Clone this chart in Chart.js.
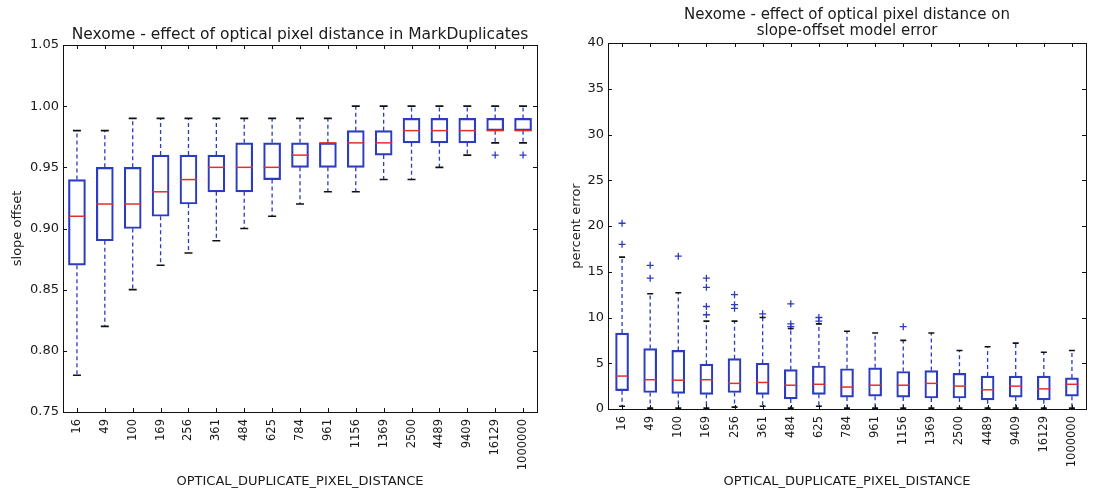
<!DOCTYPE html>
<html>
<head>
<meta charset="utf-8">
<script src="https://cdn.jsdelivr.net/npm/chart.js@4.4.1/dist/chart.umd.min.js"></script>
<style>
  body { margin: 0; background: #fff; }
  #wrap { display: flex; width: 1094px; height: 497px; }
  .box { position: relative; width: 547px; height: 497px; }
</style>
</head>
<body>
<div id="wrap">
  <div class="box"><canvas id="slopeChart"></canvas></div>
  <div class="box"><canvas id="errorChart"></canvas></div>
</div>
<script>
// categories (OPTICAL_DUPLICATE_PIXEL_DISTANCE)
const categories = ['16', '49', '100', '169', '256', '361', '484', '625', '784', '961', '1156', '1369', '2500', '4489', '9409', '16129', '1000000'];

// left plot - slope offset
const slopeLow  = [0.78, 0.82, 0.85, 0.87, 0.88, 0.89, 0.90, 0.91, 0.92, 0.93, 0.93, 0.94, 0.94, 0.95, 0.96, 0.97, 0.97];
const slopeQ1   = [0.87, 0.89, 0.90, 0.91, 0.92, 0.93, 0.93, 0.94, 0.95, 0.95, 0.95, 0.96, 0.97, 0.97, 0.97, 0.98, 0.98];
const slopeMed  = [0.91, 0.92, 0.92, 0.93, 0.94, 0.95, 0.95, 0.95, 0.96, 0.97, 0.97, 0.97, 0.98, 0.98, 0.98, 0.98, 0.98];
const slopeQ3   = [0.94, 0.95, 0.95, 0.96, 0.96, 0.96, 0.97, 0.97, 0.97, 0.97, 0.98, 0.98, 0.99, 0.99, 0.99, 0.99, 0.99];
const slopeHigh = [0.98, 0.98, 0.99, 0.99, 0.99, 0.99, 0.99, 0.99, 0.99, 0.99, 1.00, 1.00, 1.00, 1.00, 1.00, 1.00, 1.00];
const slopeFliers = [[], [], [], [], [], [], [], [], [], [], [], [], [], [], [], [0.96], [0.96]];

// right plot - percent error
const errLow  = [0.3, 0.1, 0.1, 0.1, 0.2, 0.3, 0.1, 0.3, 0.1, 0.1, 0.1, 0.1, 0.1, 0.1, 0.1, 0.1, 0.1];
const errQ1   = [2.0, 1.8, 1.7, 1.6, 1.8, 1.6, 1.1, 1.6, 1.3, 1.4, 1.3, 1.2, 1.2, 1.0, 1.3, 1.0, 1.4];
const errMed  = [3.6, 3.2, 3.15, 3.2, 2.8, 2.9, 2.6, 2.7, 2.4, 2.6, 2.6, 2.8, 2.5, 2.1, 2.5, 2.2, 2.7];
const errQ3   = [8.3, 6.6, 6.4, 4.9, 5.5, 5.0, 4.3, 4.7, 4.4, 4.5, 4.1, 4.2, 3.9, 3.6, 3.6, 3.6, 3.4];
const errHigh = [16.6, 12.6, 12.7, 9.6, 9.6, 10.0, 8.8, 9.3, 8.5, 8.3, 7.5, 8.3, 6.4, 6.8, 7.2, 6.2, 6.4];
const errFliers = [[18.0, 20.3], [14.3, 15.7], [16.7], [10.3, 11.2, 13.3, 14.3], [11.0, 11.4, 12.5], [10.4], [9.0, 9.3, 11.5], [9.6, 10.0], [], [], [9.0], [], [], [], [], [], []];

const BLUE = '#2b3cc0';
const RED = '#e0302c';
const FONT = 'DejaVu Sans';
const TEXT = '#1a1a1a';

// dashed whiskers, drawn under the boxes
const whiskerPlugin = {
    id: 'whiskers',
    beforeDatasetsDraw(chart, args, opts) {
        const ctx = chart.ctx;
        const xs = chart.scales.x, ys = chart.scales.y;
        ctx.save();
        ctx.strokeStyle = BLUE;
        ctx.lineWidth = 1.3;
        ctx.setLineDash([4, 3]);
        for (let i = 0; i < categories.length; i++) {
            const x = xs.getPixelForValue(i);
            ctx.beginPath();
            ctx.moveTo(x, ys.getPixelForValue(opts.q3[i]));
            ctx.lineTo(x, ys.getPixelForValue(opts.hi[i]));
            ctx.moveTo(x, ys.getPixelForValue(opts.q1[i]));
            ctx.lineTo(x, ys.getPixelForValue(opts.lo[i]));
            ctx.stroke();
        }
        ctx.restore();
    }
};

// matplotlib style frame with inward ticks on all four sides
const framePlugin = {
    id: 'frame',
    afterDatasetsDraw(chart) {
        const ctx = chart.ctx;
        const a = chart.chartArea;
        const xs = chart.scales.x, ys = chart.scales.y;
        ctx.save();
        ctx.strokeStyle = '#111';
        ctx.lineWidth = 1;
        ctx.strokeRect(a.left + 0.5, a.top + 0.5, a.right - a.left, a.bottom - a.top);
        ctx.beginPath();
        xs.ticks.forEach((t, i) => {
            const x = Math.round(xs.getPixelForTick(i)) + 0.5;
            ctx.moveTo(x, a.bottom); ctx.lineTo(x, a.bottom - 4);
            ctx.moveTo(x, a.top); ctx.lineTo(x, a.top + 4);
        });
        ys.ticks.forEach((t, i) => {
            const y = Math.round(ys.getPixelForTick(i)) + 0.5;
            ctx.moveTo(a.left, y); ctx.lineTo(a.left + 4, y);
            ctx.moveTo(a.right, y); ctx.lineTo(a.right - 4, y);
        });
        ctx.stroke();
        ctx.restore();
    }
};

// title centred over the plot area, like matplotlib
const plotTitlePlugin = {
    id: 'plotTitle',
    afterDraw(chart, args, opts) {
        const ctx = chart.ctx;
        const a = chart.chartArea;
        ctx.save();
        ctx.fillStyle = TEXT;
        ctx.font = opts.size + 'px "' + FONT + '"';
        ctx.textAlign = 'center';
        ctx.textBaseline = 'middle';
        opts.lines.forEach((line, i) => ctx.fillText(line, (a.left + a.right) / 2, opts.y[i]));
        ctx.restore();
    }
};

function makeBoxChart(id, cfg) {
    const flierPts = [];
    cfg.fliers.forEach((list, i) => list.forEach(v => flierPts.push({ x: categories[i], y: v })));

    new Chart(document.getElementById(id).getContext('2d'), {
        type: 'bar',
        data: {
            labels: categories,
            datasets: [
                {
                    type: 'bar',
                    data: categories.map((c, i) => [cfg.q1[i], cfg.q3[i]]),
                    backgroundColor: 'rgba(255,255,255,0)',
                    borderColor: BLUE,
                    borderWidth: 1.5,
                    borderSkipped: false,
                    barThickness: cfg.boxW,
                    order: 3
                },
                {
                    type: 'line',
                    data: cfg.med,
                    showLine: false,
                    pointStyle: 'line',
                    pointRadius: cfg.boxW / 2,
                    borderColor: RED,
                    borderWidth: 1.5,
                    order: 1
                },
                {
                    type: 'line',
                    data: cfg.hi,
                    showLine: false,
                    pointStyle: 'line',
                    pointRadius: cfg.capR,
                    borderColor: '#111',
                    borderWidth: 1.6,
                    order: 2
                },
                {
                    type: 'line',
                    data: cfg.lo,
                    showLine: false,
                    pointStyle: 'line',
                    pointRadius: cfg.capR,
                    borderColor: '#111',
                    borderWidth: 1.6,
                    order: 2
                },
                {
                    type: 'line',
                    data: flierPts,
                    showLine: false,
                    pointStyle: 'cross',
                    pointRadius: 3.5,
                    borderColor: BLUE,
                    borderWidth: 1.3,
                    order: 2
                }
            ]
        },
        options: {
            responsive: true,
            maintainAspectRatio: false,
            animation: false,
            layout: { padding: { left: 0, right: 4, top: cfg.top, bottom: 0 } },
            plugins: {
                legend: { display: false },
                tooltip: { enabled: false },
                title: { display: false },
                plotTitle: { lines: cfg.title, y: cfg.titleY, size: cfg.titleSize },
                whiskers: { q1: cfg.q1, q3: cfg.q3, lo: cfg.lo, hi: cfg.hi }
            },
            scales: {
                x: {
                    grid: { display: false, drawTicks: false },
                    border: { display: false },
                    ticks: {
                        color: TEXT,
                        font: { family: FONT, size: 11.5 },
                        minRotation: 90,
                        maxRotation: 90,
                        autoSkip: false,
                        padding: 7
                    },
                    title: {
                        display: true,
                        text: 'OPTICAL_DUPLICATE_PIXEL_DISTANCE',
                        color: TEXT,
                        font: { family: FONT, size: 13 },
                        padding: { top: 0, bottom: 8 }
                    },
                    afterFit(scale) { scale.height = cfg.xH; }
                },
                y: {
                    min: cfg.yMin,
                    max: cfg.yMax,
                    grid: { display: false, drawTicks: false },
                    border: { display: false },
                    ticks: {
                        stepSize: cfg.step,
                        color: TEXT,
                        font: { family: FONT, size: 13 },
                        padding: 4,
                        callback: cfg.fmt
                    },
                    title: {
                        display: true,
                        text: cfg.yTitle,
                        color: TEXT,
                        font: { family: FONT, size: 13 },
                        padding: { top: cfg.yTitlePad, bottom: 0 }
                    },
                    afterFit(scale) { scale.width = cfg.yW; }
                }
            }
        },
        plugins: [whiskerPlugin, framePlugin, plotTitlePlugin]
    });
}

makeBoxChart('slopeChart', {
    q1: slopeQ1, q3: slopeQ3, med: slopeMed, lo: slopeLow, hi: slopeHigh, fliers: slopeFliers,
    title: ['Nexome - effect of optical pixel distance in MarkDuplicates'],
    titleY: [35], titleSize: 15.5, top: 45,
    yTitle: 'slope offset', yTitlePad: 10,
    yMin: 0.75, yMax: 1.05, step: 0.05,
    fmt: v => v.toFixed(2),
    boxW: 17, capR: 4, xH: 85, yW: 63
});

makeBoxChart('errorChart', {
    q1: errQ1, q3: errQ3, med: errMed, lo: errLow, hi: errHigh, fliers: errFliers,
    title: ['Nexome - effect of optical pixel distance on', 'slope-offset model error'],
    titleY: [15, 31], titleSize: 15, top: 43,
    yTitle: 'percent error', yTitlePad: 22,
    yMin: 0, yMax: 40, step: 5,
    fmt: v => v,
    boxW: 13, capR: 3, xH: 88, yW: 61
});
</script>
</body>
</html>
